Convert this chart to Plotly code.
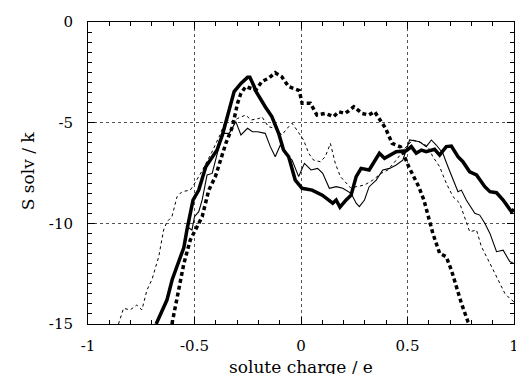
import plotly.graph_objects as go

# Thick solid curve
a_x = [-0.68,-0.629,-0.605,-0.55,-0.535,-0.507,-0.48,-0.447,-0.394,-0.369,-0.314,-0.282,-0.251,-0.24,-0.22,
       -0.215,-0.168,-0.137,-0.105,-0.082,-0.058,-0.027,0.005,0.052,0.1,0.149,0.165,0.183,0.212,0.235,0.259,
       0.282,0.32,0.368,0.392,0.447,0.494,0.518,0.541,0.565,0.588,0.627,0.651,0.682,0.706,0.737,0.76,0.792,
       0.824,0.863,0.887,0.918,0.949,0.988,1.0]
a_y = [-15,-13.8,-12.8,-11.2,-10.3,-8.85,-8.35,-7.19,-6.36,-5.61,-3.46,-3.05,-2.75,-2.75,-3.2,
       -3.38,-4.21,-4.7,-5.53,-6.36,-6.69,-7.85,-8.26,-8.35,-8.6,-9.0,-8.84,-9.2,-8.84,-8.6,-7.68,
       -7.27,-7.35,-6.52,-6.77,-6.44,-6.4,-6.19,-6.52,-6.36,-6.44,-6.32,-6.61,-6.19,-6.16,-6.69,-6.94,-7.44,
       -7.6,-8.18,-8.43,-8.48,-8.84,-9.42,-9.3]

# Thick dotted curve
b_x = [-0.606,-0.582,-0.55,-0.52,-0.488,-0.464,-0.433,-0.402,-0.353,-0.322,-0.298,-0.282,-0.259,-0.235,-0.212,
       -0.184,-0.153,-0.121,-0.09,-0.058,-0.027,-0.008,0.005,0.044,0.075,0.114,0.153,0.177,0.208,0.248,0.287,
       0.318,0.346,0.373,0.397,0.428,0.467,0.506,0.553,0.577,0.604,0.619,0.651,0.682,0.706,0.729,0.753,0.784,0.79]
b_y = [-15,-13.65,-12.0,-10.83,-10.17,-9.67,-8.35,-7.68,-6.03,-5.2,-4.04,-3.54,-3.21,-3.3,-3.38,
       -2.96,-2.8,-2.52,-2.72,-3.21,-3.35,-3.41,-4.04,-4.04,-4.62,-4.54,-4.7,-4.46,-4.54,-4.21,-4.54,
       -4.62,-4.46,-4.87,-5.28,-6.03,-6.2,-7.19,-8.18,-8.84,-9.84,-10.5,-11.49,-11.66,-12.32,-13.15,-13.97,-14.89,-15]

# Thin solid curve
c_x = [-0.68,-0.629,-0.605,-0.55,-0.535,-0.512,-0.5,-0.48,-0.464,-0.441,-0.417,-0.4,-0.369,-0.337,-0.306,
       -0.282,-0.251,-0.228,-0.204,-0.168,-0.144,-0.121,-0.097,-0.074,-0.042,-0.011,0.016,0.047,0.078,0.102,
       0.133,0.165,0.196,0.235,0.259,0.274,0.298,0.32,0.353,0.384,0.416,0.447,0.478,0.51,0.557,0.588,0.612,
       0.635,0.666,0.69,0.714,0.737,0.753,0.776,0.816,0.839,0.863,0.887,0.918,0.949,0.98,1.0]
c_y = [-15,-13.8,-12.8,-11.2,-10.17,-10.33,-9.67,-9.42,-8.84,-7.6,-7.52,-6.86,-5.53,-5.53,-4.95,
       -5.61,-5.28,-5.45,-5.45,-5.53,-6.19,-6.69,-6.11,-6.52,-6.86,-7.68,-7.02,-7.35,-7.27,-7.52,
       -8.26,-8.18,-8.26,-8.51,-9.0,-9.17,-8.84,-8.18,-7.85,-7.35,-7.27,-7.1,-6.86,-5.86,-5.95,-6.19,-5.86,
       -6.11,-6.52,-7.19,-7.85,-8.43,-8.35,-8.84,-9.5,-9.59,-10.0,-10.5,-11.41,-11.33,-11.9,-12.0]

# Thin dashed curve
d_x = [-0.857,-0.833,-0.802,-0.771,-0.747,-0.723,-0.7,-0.668,-0.645,-0.629,-0.606,-0.582,-0.559,-0.52,-0.504,
       -0.47,-0.42,-0.38,-0.353,-0.322,-0.298,-0.259,-0.235,-0.196,-0.184,-0.153,-0.121,-0.09,-0.058,-0.042,
       -0.019,0.012,0.036,0.059,0.091,0.114,0.138,0.161,0.185,0.212,0.235,0.259,0.298,0.337,0.376,0.408,0.447,
       0.494,0.525,0.572,0.596,0.619,0.651,0.682,0.714,0.745,0.776,0.792,0.824,0.847,0.887,0.918,0.957,0.98,1.0]
d_y = [-15,-14.22,-14.3,-14.06,-14.3,-13.31,-12.8,-11.66,-10.33,-9.92,-9.67,-8.68,-8.43,-8.35,-8.1,
       -7.5,-6.5,-5.6,-4.87,-4.95,-4.79,-4.62,-4.87,-4.79,-4.7,-5.2,-5.28,-5.61,-5.2,-5.03,
       -5.37,-5.86,-6.52,-6.86,-6.94,-6.69,-6.03,-7.02,-7.68,-8.01,-8.26,-8.18,-8.1,-7.85,-7.52,-7.35,-6.86,
       -6.2,-5.86,-6.03,-6.19,-6.69,-7.19,-8.01,-8.68,-9.0,-10.0,-10.42,-10.33,-11.16,-11.99,-12.65,-13.48,-13.73,-13.9]

x_ticks = [-1, -0.5, 0, 0.5, 1]
x_labels = ["-1", "-0.5", "0", "0.5", "1"]
y_ticks = [-15, -10, -5, 0]
y_labels = ["-15", "-10", "-5", "0"]
x_title = "solute charge / e"
y_title = "S solv / k"

FONT = "DejaVu Serif"

fig = go.Figure()
fig.add_trace(go.Scatter(x=d_x, y=d_y, mode="lines", line=dict(color="black", width=1, dash="3px,3px")))
fig.add_trace(go.Scatter(x=c_x, y=c_y, mode="lines", line=dict(color="black", width=1.1)))
fig.add_trace(go.Scatter(x=b_x, y=b_y, mode="lines", line=dict(color="black", width=3.5, dash="4px,3px")))
fig.add_trace(go.Scatter(x=a_x, y=a_y, mode="lines", line=dict(color="black", width=3.5)))

axis_common = dict(
    showline=True, linecolor="black", linewidth=1, mirror="ticks",
    ticks="inside", ticklen=7, tickcolor="black", tickwidth=1,
    showgrid=True, gridcolor="#555", griddash="dot", gridwidth=1,
    zeroline=False, tickfont=dict(family=FONT, size=15, color="black"),
    ticklabeloverflow="allow",
)

fig.update_layout(
    template="none",
    width=516, height=374,
    font=dict(family=FONT, color="black"),
    margin=dict(l=88, r=2, t=22, b=50),
    paper_bgcolor="white", plot_bgcolor="white",
    showlegend=False,
    xaxis=dict(range=[-1, 1], tickvals=x_ticks, ticktext=x_labels,
               minor=dict(dtick=0.1, ticks="inside", ticklen=4, tickcolor="black", showgrid=False),
               ticklabelstandoff=8,
               **axis_common),
    yaxis=dict(range=[-15, 0], tickvals=y_ticks, ticktext=y_labels,
               minor=dict(dtick=0.5, ticks="inside", ticklen=4, tickcolor="black", showgrid=False),
               ticklabelstandoff=11,
               **axis_common),
    annotations=[
        dict(text=x_title, xref="paper", yref="paper", x=0.5, y=-0.142,
             xanchor="center", yanchor="middle", showarrow=False,
             font=dict(family=FONT, size=17, color="black")),
        dict(text=y_title, xref="paper", yref="paper", x=-0.14, y=0.507, textangle=-90,
             xanchor="center", yanchor="middle", showarrow=False,
             font=dict(family=FONT, size=17, color="black")),
    ],
)

fig.write_html("out.html")
